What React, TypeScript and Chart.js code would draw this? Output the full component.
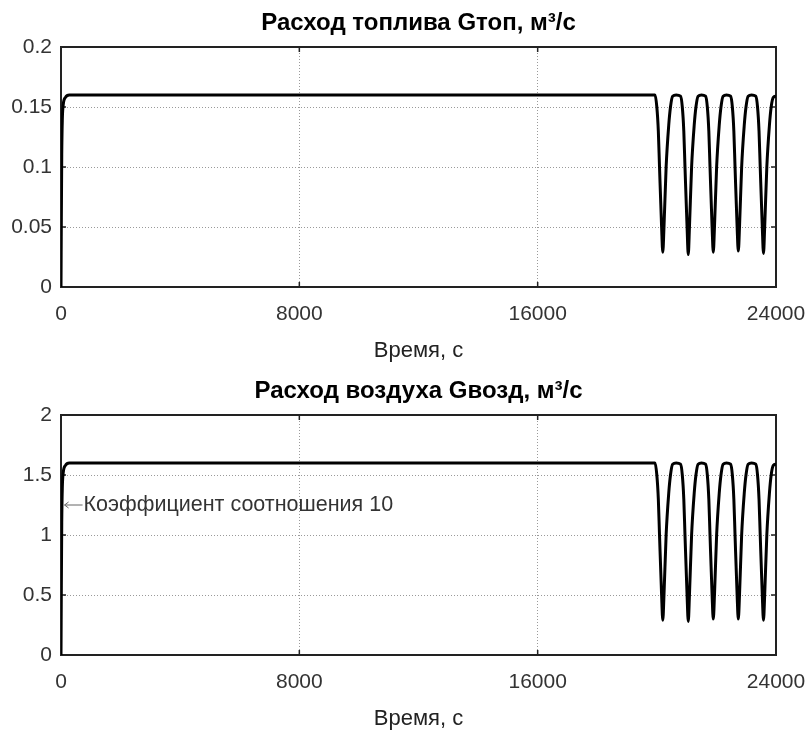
import React, { useEffect, useRef } from 'react';
import { Chart, registerables } from 'chart.js';

Chart.register(...registerables);

// ---------- data ----------
const timeSec = [
  0, 10, 25, 45, 75, 150, 280,
  19940, 20000, 20050, 20090, 20160, 20200, 20240, 20312, 20400, 20458, 20530, 20650,
  20795, 20855, 20905, 20945, 21015, 21055, 21095, 21167, 21255, 21313, 21385, 21500,
  21635, 21695, 21745, 21785, 21855, 21895, 21935, 22007, 22095, 22153, 22225, 22340,
  22475, 22535, 22585, 22625, 22695, 22735, 22775, 22847, 22935, 22993, 23065, 23180,
  23320, 23380, 23430, 23470, 23540, 23580, 23620, 23692, 23780, 23838, 23910, 24000,
];

const fuelFlow = [
  0, 0.05, 0.11, 0.14, 0.152, 0.158, 0.16,
  0.16, 0.15, 0.13, 0.10, 0.05, 0.029, 0.05, 0.10, 0.135, 0.15, 0.159, 0.16,
  0.159, 0.15, 0.13, 0.10, 0.05, 0.027, 0.05, 0.10, 0.135, 0.15, 0.159, 0.16,
  0.159, 0.15, 0.13, 0.10, 0.05, 0.029, 0.05, 0.10, 0.135, 0.15, 0.159, 0.16,
  0.159, 0.15, 0.13, 0.10, 0.05, 0.030, 0.05, 0.10, 0.135, 0.15, 0.159, 0.16,
  0.159, 0.15, 0.13, 0.10, 0.05, 0.028, 0.05, 0.10, 0.135, 0.15, 0.158, 0.159,
];

const airFlow = [
  0, 0.5, 1.1, 1.4, 1.52, 1.58, 1.6,
  1.6, 1.5, 1.3, 1.0, 0.5, 0.29, 0.5, 1.0, 1.35, 1.5, 1.59, 1.6,
  1.59, 1.5, 1.3, 1.0, 0.5, 0.28, 0.5, 1.0, 1.35, 1.5, 1.59, 1.6,
  1.59, 1.5, 1.3, 1.0, 0.5, 0.30, 0.5, 1.0, 1.35, 1.5, 1.59, 1.6,
  1.59, 1.5, 1.3, 1.0, 0.5, 0.30, 0.5, 1.0, 1.35, 1.5, 1.59, 1.6,
  1.59, 1.5, 1.3, 1.0, 0.5, 0.29, 0.5, 1.0, 1.35, 1.5, 1.58, 1.59,
];

const xTicks = [0, 8000, 16000, 24000];
const xTickLabels = ['0', '8000', '16000', '24000'];

const fuelTicks = [0, 0.05, 0.1, 0.15, 0.2];
const fuelTickLabels = ['0', '0.05', '0.1', '0.15', '0.2'];

const airTicks = [0, 0.5, 1, 1.5, 2];
const airTickLabels = ['0', '0.5', '1', '1.5', '2'];

const fuelTitle = 'Расход топлива Gтоп, м³/с';
const airTitle = 'Расход воздуха Gвозд, м³/с';
const xTitle = 'Время, с';
const ratioNote = 'Коэффициент соотношения 10';
const ratioNoteAt = { x: 120, y: 1.25 };

// ---------- styling ----------
const FONT = '"Liberation Sans", Arial, Helvetica, sans-serif';
Chart.defaults.font.family = FONT;

const framePlugin = {
  id: 'frameTicks',
  beforeDatasetsDraw(chart: any) {
    const { ctx, chartArea, scales } = chart;
    const { left, right, top, bottom } = chartArea;
    const tl = 5;
    ctx.save();
    ctx.strokeStyle = '#222';
    ctx.lineWidth = 1.5;
    ctx.setLineDash([]);
    ctx.beginPath();
    scales.x.ticks.forEach((t: any) => {
      const px = scales.x.getPixelForValue(t.value);
      ctx.moveTo(px, bottom);
      ctx.lineTo(px, bottom - tl);
      ctx.moveTo(px, top);
      ctx.lineTo(px, top + tl);
    });
    scales.y.ticks.forEach((t: any) => {
      const py = scales.y.getPixelForValue(t.value);
      ctx.moveTo(left, py);
      ctx.lineTo(left + tl, py);
      ctx.moveTo(right, py);
      ctx.lineTo(right - tl, py);
    });
    ctx.stroke();
    ctx.lineWidth = 2;
    ctx.strokeRect(left, top, right - left, bottom - top);
    ctx.restore();
  },
};

const notePlugin = {
  id: 'ratioNote',
  afterDatasetsDraw(chart: any, _args: any, opts: any) {
    if (!opts || !opts.text) return;
    const { ctx, scales } = chart;
    const px = scales.x.getPixelForValue(opts.x);
    const py = scales.y.getPixelForValue(opts.y);
    ctx.save();
    ctx.strokeStyle = '#666';
    ctx.lineWidth = 1;
    ctx.beginPath();
    ctx.moveTo(px, py);
    ctx.lineTo(px + 18, py);
    ctx.moveTo(px + 4, py - 3);
    ctx.lineTo(px, py);
    ctx.lineTo(px + 4, py + 3);
    ctx.stroke();
    ctx.fillStyle = '#333';
    ctx.font = '21.5px ' + FONT;
    ctx.textBaseline = 'middle';
    ctx.textAlign = 'left';
    ctx.fillText(opts.text, px + 19, py);
    ctx.restore();
  },
};

function makeConfig(
  title: string,
  values: number[],
  yTicks: number[],
  yLabels: string[],
  yMax: number,
  note: any,
): any {
  return {
    type: 'line',
    data: {
      datasets: [
        {
          data: timeSec.map((t, i) => ({ x: t, y: values[i] })),
          borderColor: '#000',
          borderWidth: 3,
          pointRadius: 0,
          cubicInterpolationMode: 'monotone',
          fill: false,
        },
      ],
    },
    plugins: [framePlugin, notePlugin],
    options: {
      responsive: false,
      animation: false,
      devicePixelRatio: 1,
      layout: { padding: { left: 0, right: 32, top: 0, bottom: 0 } },
      plugins: {
        legend: { display: false },
        tooltip: { enabled: false },
        title: {
          display: true,
          text: title,
          fullSize: false,
          color: '#000',
          font: { size: 24, weight: 'bold', family: FONT, lineHeight: 1.2 },
          padding: { top: 9, bottom: 9.2 },
        },
        ratioNote: note,
      },
      scales: {
        x: {
          type: 'linear',
          min: 0,
          max: 24000,
          afterFit: (s: any) => {
            s.height = 81;
            s.paddingLeft = 0;
            s.paddingRight = 0;
          },
          afterBuildTicks: (s: any) => { s.ticks = xTicks.map((v) => ({ value: v })); },
          ticks: {
            autoSkip: false,
            maxRotation: 0,
            padding: 15,
            color: '#333',
            font: { size: 21 },
            callback: (_v: any, i: number) => xTickLabels[i],
          },
          grid: { color: '#9a9a9a', lineWidth: 1, drawTicks: false },
          border: { display: false, dash: [1, 2] },
          title: {
            display: true,
            text: xTitle,
            color: '#222',
            font: { size: 22 },
            padding: { top: 0, bottom: 4 },
          },
        },
        y: {
          type: 'linear',
          min: 0,
          max: yMax,
          afterFit: (s: any) => {
            s.width = 61;
            s.paddingTop = 0;
            s.paddingBottom = 0;
          },
          afterBuildTicks: (s: any) => { s.ticks = yTicks.map((v) => ({ value: v })); },
          ticks: {
            autoSkip: false,
            padding: 9,
            color: '#333',
            font: { size: 21 },
            callback: (_v: any, i: number) => yLabels[i],
          },
          grid: { color: '#9a9a9a', lineWidth: 1, drawTicks: false },
          border: { display: false, dash: [1, 2] },
        },
      },
    },
  };
}

function Panel({ config, height }: { config: any; height: number }) {
  const ref = useRef<HTMLCanvasElement | null>(null);
  useEffect(() => {
    if (!ref.current) return;
    const chart = new Chart(ref.current, config);
    return () => chart.destroy();
  }, [config]);
  return (
    <canvas
      ref={ref}
      width={808}
      height={height}
      style={{ display: 'block', width: 808, height }}
    />
  );
}

const fuelConfig = makeConfig(fuelTitle, fuelFlow, fuelTicks, fuelTickLabels, 0.2, null);
const airConfig = makeConfig(airTitle, airFlow, airTicks, airTickLabels, 2, {
  text: ratioNote,
  x: ratioNoteAt.x,
  y: ratioNoteAt.y,
});

export default function App() {
  return (
    <div
      style={{
        position: 'absolute',
        left: 0,
        top: 0,
        width: 808,
        height: 735,
        background: '#fff',
        overflow: 'hidden',
      }}
    >
      <Panel config={fuelConfig} height={368} />
      <Panel config={airConfig} height={368} />
    </div>
  );
}
